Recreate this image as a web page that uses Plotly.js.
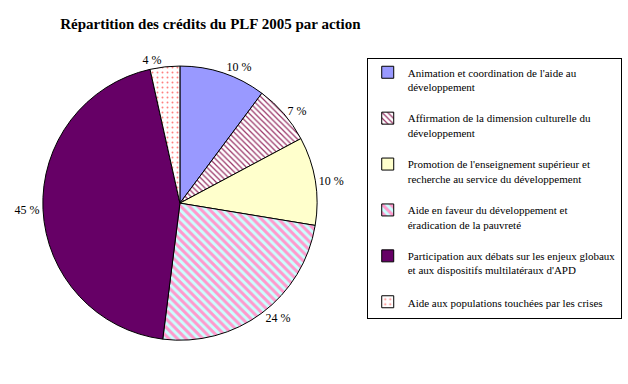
<!DOCTYPE html>
<html>
<head>
<meta charset="utf-8">
<script src="https://cdn.plot.ly/plotly-3.0.1.min.js"></script>
<style>html,body{margin:0;padding:0;background:#fff}#chart{width:628px;height:384px}</style>
</head>
<body>
<div id="chart"></div>
<script>
var actions = [
  "Animation et coordination de l'aide au<br>développement<br> ",
  "Affirmation de la dimension culturelle du<br>développement<br> ",
  "Promotion de l'enseignement supérieur et<br>recherche au service du développement<br> ",
  "Aide en faveur du développement et<br>éradication de la pauvreté<br> ",
  "Participation aux débats sur les enjeux globaux<br>et aux dispositifs multilatéraux d'APD<br> ",
  "Aide aux populations touchées par les crises"
];
var shares = [10.2, 7.0, 10.4, 24.4, 44.5, 3.5];
var shareLabels = ["10 %", "7 %", "10 %", "24 %", "45 %", "4 %"];

var fills = ["#9999FF", "#FFFFFF", "#FFFFCC", "#CCFFFF", "#660066", "#FFFFFF"];
var patterns = {
  shape: ["", "\\", "", "\\", "", "."],
  fgcolor: ["#9999FF", "#993366", "#FFFFCC", "#FF99CC", "#660066", "#FF8080"],
  bgcolor: ["#9999FF", "#FFFFFF", "#FFFFCC", "#CCFFFF", "#660066", "#FFFFFF"],
  size: [8, 4, 6, 6, 8, 5],
  solidity: [0.5, 0.3, 0.5, 0.5, 0.5, 0.12],
  fillmode: "replace"
};

var trace = {
  type: "pie",
  labels: actions,
  values: shares,
  text: shareLabels,
  textinfo: "text",
  textposition: "outside",
  hoverinfo: "label+percent",
  sort: false,
  direction: "clockwise",
  rotation: 0,
  marker: {colors: fills, line: {color: "#000000", width: 1}, pattern: patterns},
  textfont: {family: "Liberation Serif, Times New Roman, serif", size: 12, color: "#000"},
  outsidetextfont: {family: "Liberation Serif, Times New Roman, serif", size: 12, color: "#000"},
  domain: {x: [0.06, 0.513], y: [0.114, 0.828]}
};

var layout = {
  width: 628, height: 384,
  margin: {l: 0, r: 0, t: 0, b: 0},
  paper_bgcolor: "#fff",
  showlegend: true,
  title: {text: "<b>Répartition des crédits du PLF 2005 par action</b>", x: 0.335, xanchor: "center", y: 0.938, yanchor: "middle",
          font: {family: "Liberation Serif, Times New Roman, serif", size: 15, color: "#000"}},
  legend: {x: 0.99, xanchor: "right", y: 0.85, yanchor: "top", bgcolor: "#fff",
           bordercolor: "#000", borderwidth: 1, valign: "top", traceorder: "normal",
           font: {family: "Liberation Serif, Times New Roman, serif", size: 11, color: "#000"}}
};

Plotly.newPlot("chart", [trace], layout, {displayModeBar: false, staticPlot: true});
</script>
</body>
</html>
